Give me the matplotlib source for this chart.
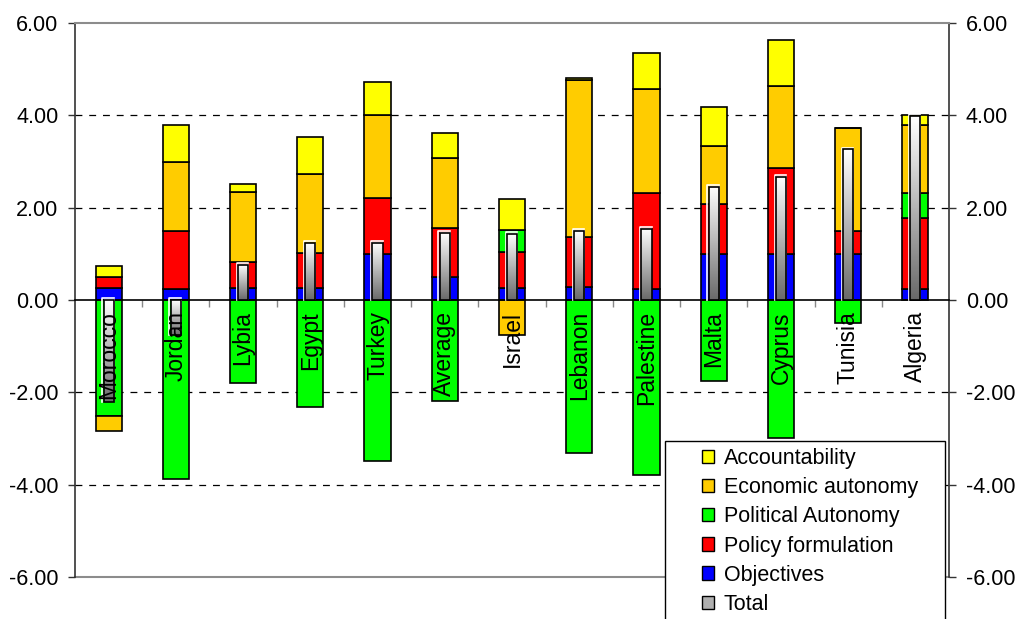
import numpy as np
import matplotlib
matplotlib.use("Agg")
import matplotlib.pyplot as plt
from matplotlib.colors import LinearSegmentedColormap
from matplotlib.patches import Patch, Rectangle

plt.rcParams["font.family"] = ["Liberation Sans", "DejaVu Sans"]

countries = ["Morocco", "Jordan", "Lybia", "Egypt", "Turkey", "Average", "Israel",
             "Lebanon", "Palestine", "Malta", "Cyprus", "Tunisia", "Algeria"]
objectives = [0.25, 0.24, 0.25, 0.25, 1.00, 0.49, 0.25, 0.29, 0.24, 1.00, 1.00, 1.00, 0.23]
policy = [0.24, 1.25, 0.58, 0.76, 1.21, 1.07, 0.79, 1.07, 2.07, 1.09, 1.86, 0.49, 1.55]
political = [-2.52, -3.88, -1.79, -2.31, -3.49, -2.18, 0.47, -3.31, -3.79, -1.75, -2.99, -0.49, 0.53]
economic = [-0.31, 1.51, 1.50, 1.73, 1.79, 1.52, -0.76, 3.40, 2.25, 1.25, 1.77, 2.24, 1.47]
accountability = [0.24, 0.78, 0.19, 0.78, 0.73, 0.53, 0.67, 0.04, 0.79, 0.83, 1.01, 0.00, 0.22]
total = [-2.22, -0.75, 0.76, 1.23, 1.24, 1.46, 1.44, 1.50, 1.54, 2.45, 2.67, 3.26, 3.98]

series = [
    ("Objectives", objectives, "#0000ff"),
    ("Policy formulation", policy, "#ff0000"),
    ("Political Autonomy", political, "#00ff00"),
    ("Economic autonomy", economic, "#ffcc00"),
    ("Accountability", accountability, "#ffff00"),
]

W, H = 1019, 619
fig = plt.figure(figsize=(W / 100, H / 100), dpi=100)
ax = fig.add_axes([75 / W, 1 - 577 / H, (949 - 75) / W, (577 - 23) / H])

x = np.arange(len(countries))
pos_base = np.zeros(len(x))
neg_base = np.zeros(len(x))
for name, vals, col in series:
    v = np.array(vals)
    base = np.where(v >= 0, pos_base, neg_base)
    ax.bar(x, v, 0.39, bottom=base, color=col, edgecolor="black", linewidth=1.2, zorder=2)
    pos_base += np.where(v >= 0, v, 0)
    neg_base += np.where(v < 0, v, 0)

# narrow shaded bars for the total score
grey = LinearSegmentedColormap.from_list("tot", ["#ffffff", "#6a6a6a"])
grad = np.linspace(0, 1, 128).reshape(-1, 1)
tw = 0.15
for xi, t in zip(x, total):
    lo, hi = min(0, t), max(0, t)
    ax.imshow(grad, cmap=grey, extent=[xi - tw / 2, xi + tw / 2, lo, hi],
              aspect="auto", origin="upper", zorder=3)
    # light bevel on the left and top edges
    ax.plot([xi - tw / 2 - 0.02, xi - tw / 2 - 0.02, xi + tw / 2],
            [lo, hi + 0.04, hi + 0.04], color="white", linewidth=1.2, zorder=3)
    ax.add_patch(Rectangle((xi - tw / 2, lo), tw, hi - lo, fill=False,
                           edgecolor="black", linewidth=1.2, zorder=3))

for xi, name in zip(x, countries):
    ax.annotate(name, (xi, 0), xytext=(0, -8), textcoords="offset points",
                rotation=90, ha="center", va="top", fontsize=16.5, zorder=5)

for yv in (-4, -2, 2, 4):
    ax.axhline(yv, color="black", linewidth=0.9, linestyle=(0, (5.5, 5.5)), zorder=1)
ax.axhline(-6, color="#8c8c8c", linewidth=1.5, clip_on=False, zorder=1)

ax.set_xlim(-0.5, len(x) - 0.5)
ax.set_ylim(-6, 6)
yt = [-6, -4, -2, 0, 2, 4, 6]
ax.set_yticks(yt)
ax.set_yticklabels([f"{v:.2f}" for v in yt])
ax.yaxis.set_ticks_position("both")
ax.tick_params(axis="y", labelright=True, labelsize=15.5, length=5, width=1,
               color="#333333", pad=7)

ax.spines["bottom"].set_position(("data", 0))
ax.spines["bottom"].set_color("black")
ax.spines["bottom"].set_linewidth(1.2)
ax.spines["top"].set_color("#8c8c8c")
ax.spines["top"].set_linewidth(1.5)
for s in ("left", "right"):
    ax.spines[s].set_color("#333333")
    ax.spines[s].set_linewidth(1.2)
ax.set_xticks(x[:-1] + 0.5)
ax.set_xticklabels([])
ax.tick_params(axis="x", direction="out", length=5, color="#888888", width=1)

# legend box runs past the bottom edge
fig.add_artist(Rectangle((665 / W, -0.1), 280 / W, 0.1 + 1 - 441 / H,
                         transform=fig.transFigure, facecolor="white",
                         edgecolor="black", linewidth=1, zorder=4))
handles = [Patch(facecolor=c, edgecolor="black", label=n) for n, _, c in series[::-1]]
handles.append(Patch(facecolor="#b0b0b0", edgecolor="black", label="Total"))
fig.legend(handles=handles, loc="upper left", bbox_to_anchor=(702 / W, 1 - 448 / H),
           frameon=False, fontsize=15.5, handlelength=0.58, handleheight=0.58,
           handletextpad=0.42, labelspacing=0.38, borderpad=0, borderaxespad=0)

fig.savefig("out.png", dpi=100)
